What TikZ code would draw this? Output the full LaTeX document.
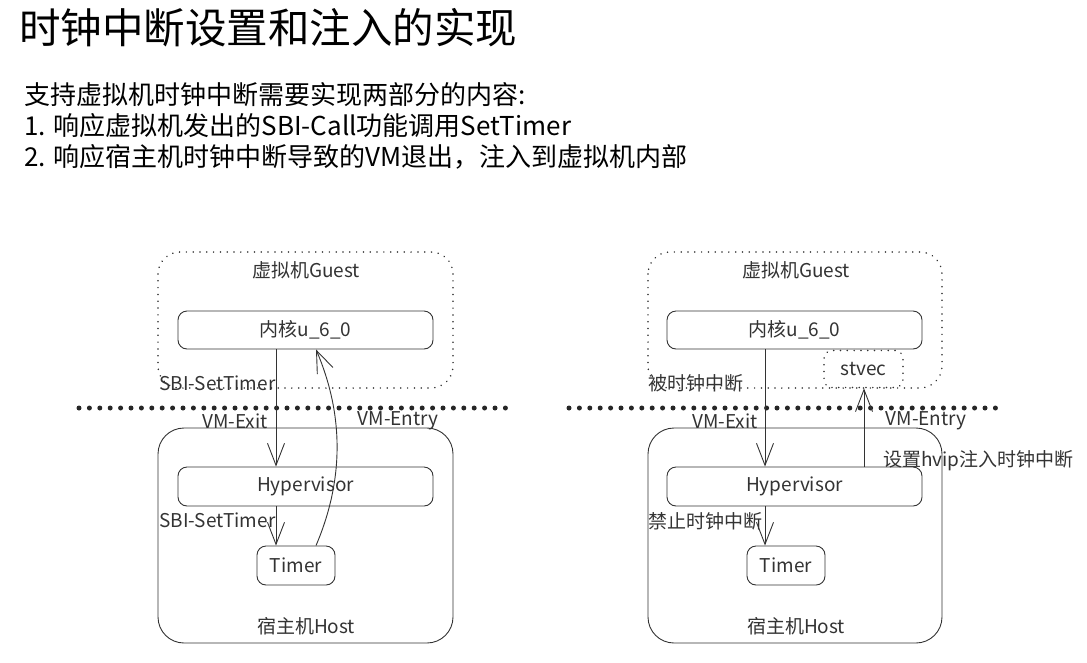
\documentclass[tikz,border=0pt]{standalone}
\usepackage{fontspec}
\setmainfont{Noto Sans CJK SC}
\usetikzlibrary{arrows.meta}
\definecolor{ln}{HTML}{333333}
\tikzset{
  lbl/.style={font=\fontsize{19}{22}\selectfont, text=ln, inner sep=0pt},
  box/.style={draw=ln, line width=0.9pt, rounded corners=9pt, lbl},
  guestbox/.style={draw=ln, line width=1.7pt, dash pattern=on 0.01pt off 6.8pt, line cap=round, rounded corners=22pt},
  hostbox/.style={draw=ln, line width=0.9pt, rounded corners=26pt},
  sep/.style={draw=black!85, line width=5pt, dash pattern=on 0pt off 10.4pt, line cap=round},
  arr/.style={draw=ln, line width=0.9pt, -{Straight Barb[length=22pt,width=17pt,line width=0.9pt]}},
  stvecbox/.style={draw=ln, line width=1.7pt, dash pattern=on 0.01pt off 6.8pt, line cap=round, rounded corners=8pt, lbl}
}
\begin{document}
\begin{tikzpicture}[x=1pt,y=-1pt]
\useasboundingbox (0,0) rectangle (1087,662);
% title and text
\node[anchor=west, inner sep=0pt, font=\fontsize{41.5}{44}\selectfont] (title) at (19,28) {时钟中断设置和注入的实现};
\node[anchor=west, inner sep=0pt, font=\fontsize{26}{28}\selectfont] (t1) at (24,95) {支持虚拟机时钟中断需要实现两部分的内容:};
\node[anchor=west, inner sep=0pt, font=\fontsize{26}{28}\selectfont] (t2) at (24,126) {1. 响应虚拟机发出的SBI-Call功能调用SetTimer};
\node[anchor=west, inner sep=0pt, font=\fontsize{26}{28}\selectfont] (t3) at (24,157) {2. 响应宿主机时钟中断导致的VM退出，注入到虚拟机内部};

% ===== left diagram =====
\draw[guestbox] (158,252) rectangle (453,388);
\node[lbl] (lguest) at (306,270) {虚拟机Guest};
\node[box, minimum width=255pt, minimum height=38pt] (lkern) at (305.5,330) {内核u\_6\_0};
\draw[sep] (79,408) -- (512,408);
\draw[hostbox] (158,428) rectangle (453,643);
\node[lbl] (lexit) at (235,421) {VM-Exit};
\node[lbl] (lentry) at (398,421) {VM-Entry};
\node[box, minimum width=255pt, minimum height=39pt] (lhyp) at (305.5,486.5) {Hypervisor};
\node[box, minimum width=78pt, minimum height=39pt] (ltimer) at (296,565.5) {Timer};
\node[lbl] (lhost) at (306,626) {宿主机Host};
\node[lbl, anchor=west] (lsbi1) at (159,383) {SBI-SetTimer};
\node[lbl, anchor=west] (lsbi2) at (159,520) {SBI-SetTimer};
\draw[arr] (lkern.south -| 276,0) -- (lhyp.north -| 276,0);
\draw[arr] (lhyp.south -| 276,0) -- (ltimer.north -| 276,0);
\draw[arr] (ltimer.north -| 316,0) .. controls (344,480) and (344,415) .. (lkern.south -| 316,0);

% ===== right diagram =====
\draw[guestbox] (648,252) rectangle (942,388);
\node[lbl] (rguest) at (796,270) {虚拟机Guest};
\node[box, minimum width=255pt, minimum height=38pt] (rkern) at (794.5,330) {内核u\_6\_0};
\node[stvecbox, minimum width=79pt, minimum height=37pt] (stvec) at (863.5,369) {stvec};
\draw[sep] (569,408) -- (1002,408);
\draw[hostbox] (648,428) rectangle (942,643);
\node[lbl] (rexit) at (725,421) {VM-Exit};
\node[lbl] (rentry) at (926,421) {VM-Entry};
\node[box, minimum width=255pt, minimum height=39pt] (rhyp) at (794.5,486.5) {Hypervisor};
\node[box, minimum width=78pt, minimum height=39pt] (rtimer) at (786,565.5) {Timer};
\node[lbl] (rhost) at (796,626) {宿主机Host};
\node[lbl, anchor=west] (rint) at (648,383) {被时钟中断};
\node[lbl, anchor=west] (rdis) at (648,521) {禁止时钟中断};
\node[lbl, anchor=west] (rset) at (883,461) {设置hvip注入时钟中断};
\draw[arr] (rkern.south -| 765,0) -- (rhyp.north -| 765,0);
\draw[arr] (rhyp.south -| 765,0) -- (rtimer.north -| 765,0);
\draw[arr] (rhyp.north -| 864,0) -- (stvec.south -| 864,0);
\end{tikzpicture}
\end{document}
